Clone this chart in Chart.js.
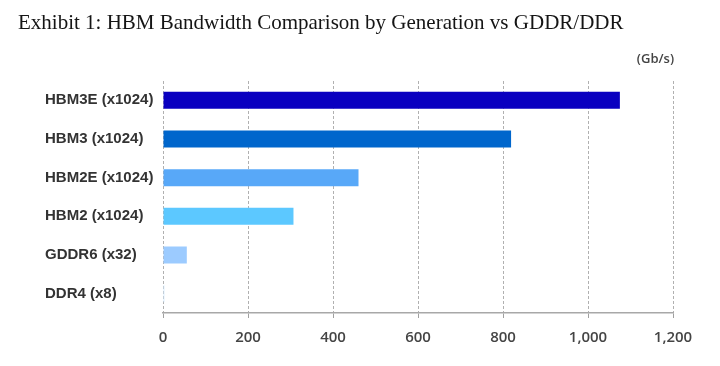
<!DOCTYPE html>
<html>
<head>
<meta charset="utf-8">
<script src="https://cdn.jsdelivr.net/npm/chart.js@4/dist/chart.umd.min.js"></script>
<style>
  html, body { margin: 0; padding: 0; background: #fff; }
  #wrap { position: relative; width: 720px; height: 366px; }
</style>
</head>
<body>
<div id="wrap"><canvas id="chart" width="720" height="366"></canvas></div>
<script>
// memory types, top to bottom
const categories = ['HBM3E (x1024)', 'HBM3 (x1024)', 'HBM2E (x1024)', 'HBM2 (x1024)', 'GDDR6 (x32)', 'DDR4 (x8)'];
// bandwidth, Gb/s
const bandwidth = [1075, 819, 460, 307, 56, 3.2];
const barColors = ['#0a00c0', '#0066cc', '#58a8f8', '#5cc8ff', '#9ccbff', '#d6ecff'];
const xTicks = [0, 200, 400, 600, 800, 1000, 1200];

const titleText = 'Exhibit 1: HBM Bandwidth Comparison by Generation vs GDDR/DDR';
const unitText = '(Gb/s)';

const headerPlugin = {
    id: 'header',
    afterDraw(chart) {
        const ctx = chart.ctx;
        ctx.save();
        ctx.fillStyle = '#151515';
        ctx.font = '21px "Liberation Serif", serif';
        ctx.textBaseline = 'alphabetic';
        ctx.textAlign = 'left';
        ctx.fillText(titleText, 18, 29);
        ctx.fillStyle = '#444';
        ctx.font = '600 13px "Open Sans", sans-serif';
        ctx.textAlign = 'right';
        ctx.textBaseline = 'middle';
        ctx.fillText(unitText, chart.chartArea.right + 1, 59);
        ctx.restore();
    }
};

const ctx = document.getElementById('chart').getContext('2d');
new Chart(ctx, {
    type: 'bar',
    data: {
        labels: categories,
        datasets: [{
            data: bandwidth,
            backgroundColor: barColors,
            borderWidth: 0,
            barPercentage: 0.44,
            categoryPercentage: 1
        }]
    },
    options: {
        indexAxis: 'y',
        responsive: false,
        animation: false,
        layout: { padding: { top: 81, right: 47, left: 45, bottom: 0 } },
        plugins: {
            legend: { display: false },
            tooltip: { enabled: false }
        },
        scales: {
            x: {
                min: 0,
                max: 1200,
                afterBuildTicks(axis) {
                    axis.ticks = xTicks.map(v => ({ value: v }));
                },
                afterFit(axis) { axis.height = 53; },
                grid: {
                    color: '#b0b0b0',
                    lineWidth: 1,
                    tickLength: 5,
                    drawTicks: true,
                    tickColor: '#a0a0a0',
                    tickBorderDash: [],
                    borderDash: [3, 2]
                },
                border: { display: true, color: '#a8a8a8', width: 1.5, dash: [3, 2] },
                ticks: {
                    color: '#444',
                    padding: 11,
                    font: { family: '"Open Sans", sans-serif', size: 15, weight: '600' },
                    callback: v => v.toLocaleString('en-US')
                }
            },
            y: {
                afterFit(axis) { axis.width = 118; },
                grid: { display: false, drawTicks: false },
                border: { display: false },
                ticks: {
                    color: '#333',
                    padding: 9,
                    crossAlign: 'far',
                    font: { family: '"Liberation Sans", Arial, sans-serif', size: 15, weight: 'bold' }
                }
            }
        }
    },
    plugins: [headerPlugin]
});
</script>
</body>
</html>
